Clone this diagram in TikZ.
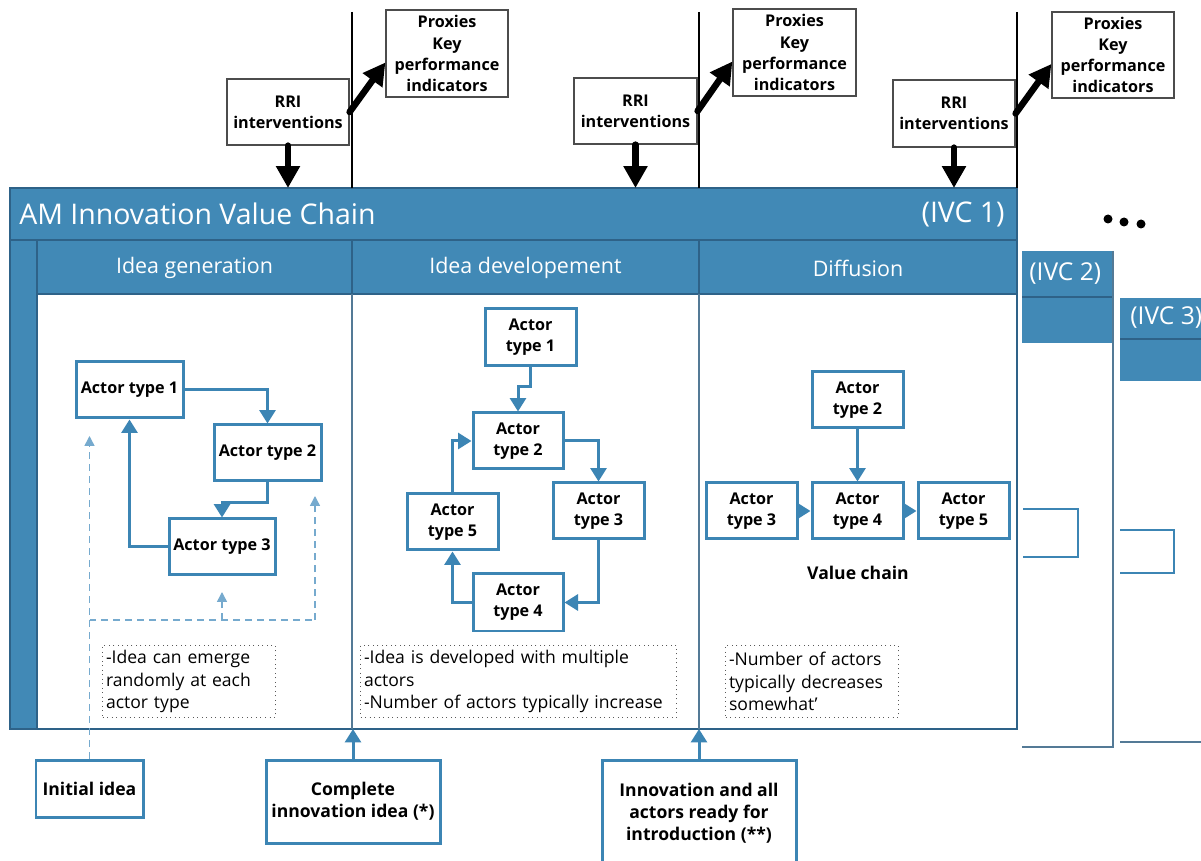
\documentclass[tikz,border=0pt]{standalone}
\usepackage{fontspec}
\setmainfont{Open Sans}
\usetikzlibrary{arrows.meta,calc}
\definecolor{ivcblue}{RGB}{65,137,182}
\definecolor{ivcdark}{RGB}{46,98,136}
\definecolor{actorblue}{RGB}{60,133,180}
\definecolor{dashblue}{RGB}{118,170,206}
\definecolor{rulegray}{RGB}{84,122,150}

\begin{document}
\begin{tikzpicture}[x=0.02cm,y=-0.02cm,
  sz/.style 2 args={minimum width=#1*0.02cm, minimum height=#2*0.02cm},
  actor/.style={draw=actorblue, line width=0.06cm, fill=white, align=center,
    inner sep=0pt, font=\fontsize{9.2}{12}\selectfont\bfseries},
  kpibox/.style={draw=black!70, line width=0.025cm, fill=white, align=center,
    inner sep=0pt, font=\fontsize{9.2}{12}\selectfont\bfseries},
  milestone/.style={actor, font=\fontsize{10}{12.6}\selectfont\bfseries},
  note/.style={draw=black!65, dotted, line width=0.02cm, align=left,
    anchor=north west, inner xsep=0.07cm, inner ysep=0pt,
    font=\fontsize{10}{12.8}\selectfont},
  flow/.style={draw=actorblue, line width=0.06cm,
    -{Triangle[width=0.32cm,length=0.27cm]}},
  hint/.style={draw=dashblue, line width=0.03cm,
    dash pattern=on 0.14cm off 0.1cm, -{Triangle[width=0.2cm,length=0.2cm]}},
  hintline/.style={draw=dashblue, line width=0.03cm, dash pattern=on 0.14cm off 0.1cm},
  bigarrow/.style={draw=black, line width=0.13cm, line cap=round,
    -{Triangle[width=0.46cm,length=0.44cm]}},
  stagehead/.style={text=white, font=\fontsize{12.2}{14}\selectfont},
  ivchead/.style={text=white, inner sep=0pt, font=\fontsize{16.2}{18}\selectfont},
  ivcsmall/.style={text=white, inner sep=0pt, font=\fontsize{14}{16}\selectfont},
  panelline/.style={draw=rulegray, line width=0.03cm},
  darkline/.style={draw=ivcdark, line width=0.03cm},
  bracket/.style={draw=actorblue, line width=0.04cm},
]
\useasboundingbox (0,0) rectangle (1201,861);
\clip (0,0) rectangle (1201,861);
\fill[white] (0,0) rectangle (1201,861);

% ---------- further chains in the background ----------
\fill[ivcblue] (1022,251) rectangle (1113,343);
\draw[darkline] (1022,297) -- (1113,297);
\node[ivcsmall, anchor=west] (ivc2) at (1029,274) {(IVC 2)};
\draw[panelline] (1113,251) -- (1113,747) -- (1022,747);
\draw[bracket] (1023,509) -- (1078,509) -- (1078,557) -- (1023,557);

\fill[ivcblue] (1120,298) rectangle (1215,381);
\draw[darkline] (1120,339) -- (1215,339);
\node[ivcsmall, anchor=west] (ivc3) at (1130,318) {(IVC 3)};
\draw[panelline] (1120,742) -- (1215,742);
\draw[bracket] (1120,530) -- (1174,530) -- (1174,573) -- (1120,573);

\foreach \cx/\cy in {1108/219, 1124/222, 1141/224}
  \fill[black] (\cx,\cy) circle [radius=0.09cm];

% ---------- main value chain panel ----------
\fill[ivcblue] (10,188) rectangle (1017,294);
\fill[ivcblue] (10,294) rectangle (37,729);
\draw[darkline] (10,240) -- (1017,240);
\draw[darkline] (37,240) -- (37,729);
\draw[darkline] (37,294) -- (1017,294);
\draw[darkline] (10,188) rectangle (1017,729);
\draw[darkline] (352,240) -- (352,294);
\draw[darkline] (699,240) -- (699,294);
\draw[panelline] (352,294) -- (352,729);
\draw[panelline] (699,294) -- (699,729);

\node[ivchead, anchor=west] (ivc1title) at (19,214) {AM Innovation Value Chain};
\node[ivchead, anchor=east] (ivc1) at (1005,214) {(IVC 1)};
\node[stagehead] (stage1) at (194.5,268) {Idea generation};
\node[stagehead] (stage2) at (525.5,268) {Idea developement};
\node[stagehead] (stage3) at (858,268) {Diffusion};

\coordinate (ivctop) at (0,188);
\coordinate (ivcbot) at (0,729);

% stage boundaries above the panel
\draw[black, line width=0.025cm] (352,12) -- (352,188);
\draw[black, line width=0.025cm] (699,12) -- (699,188);
\draw[black, line width=0.025cm] (1017,12) -- (1017,188);

% ---------- interventions and indicators ----------
\node[kpibox, sz={122}{66}] (rri1) at (288,112) {RRI\\interventions};
\node[kpibox, sz={122}{87}] (kpi1) at (447,53.5) {Proxies\\Key\\performance\\indicators};
\node[kpibox, sz={123}{66}] (rri2) at (635.5,111) {RRI\\interventions};
\node[kpibox, sz={123}{87}] (kpi2) at (794.5,52.5) {Proxies\\Key\\performance\\indicators};
\node[kpibox, sz={122}{67}] (rri3) at (954,113.5) {RRI\\interventions};
\node[kpibox, sz={122}{86}] (kpi3) at (1113,55) {Proxies\\Key\\performance\\indicators};

\foreach \i in {1,2,3}{
  \draw[bigarrow] (rri\i.south) -- (rri\i.south |- ivctop);
  \draw[bigarrow] (rri\i.east) -- ($(kpi\i.west)+(0,9)$);
}

% ---------- idea generation ----------
\node[actor, sz={107}{56}] (g1) at (129.5,390) {Actor type 1};
\node[actor, sz={107}{56}] (g2) at (267.5,453) {Actor type 2};
\node[actor, sz={106}{56}] (g3) at (222,547) {Actor type 3};
\draw[flow] (g1.east) -| (g2.north);
\draw[flow] (g2.south) -- ++(0,20) -| (g3.north);
\draw[flow] (g3.west) -| (g1.south);

\node[note, sz={173}{72}, text width=3.32cm] (noteg) at (102,645)
  {-Idea can emerge\\randomly at each\\actor type};

% ---------- idea development ----------
\node[actor, sz={91}{57}] (d1) at (530.5,337.5) {Actor\\type 1};
\node[actor, sz={90}{56}] (d2) at (518,441) {Actor\\type 2};
\node[actor, sz={91}{56}] (d3) at (598.5,511) {Actor\\type 3};
\node[actor, sz={90}{57}] (d4) at (518,602.5) {Actor\\type 4};
\node[actor, sz={91}{56}] (d5) at (452.5,522) {Actor\\type 5};
\draw[flow] (d1.south) -- ++(0,19) -| (d2.north);
\draw[flow] (d2.east) -| (d3.north);
\draw[flow] (d3.south) |- (d4.east);
\draw[flow] (d4.west) -| (d5.south);
\draw[flow] (d5.north) |- (d2.west);

\node[note, sz={316}{72}, text width=6.18cm] (noted) at (360,645)
  {-Idea is developed with multiple\\actors\\-Number of actors typically increase};

% ---------- diffusion ----------
\node[actor, sz={91}{56}] (f2) at (857.5,400) {Actor\\type 2};
\node[actor, sz={91}{56}] (f3) at (751.5,511) {Actor\\type 3};
\node[actor, sz={91}{56}] (f4) at (857.5,511) {Actor\\type 4};
\node[actor, sz={91}{56}] (f5) at (963.5,511) {Actor\\type 5};
\draw[flow] (f2.south) -- (f4.north);
\draw[flow] (f3.east) -- (f4.west);
\draw[flow] (f4.east) -- (f5.west);
\node[font=\fontsize{10}{12}\selectfont\bfseries] (vchain) at (858,573) {Value chain};

\node[note, sz={173}{72}, text width=3.32cm] (notef) at (725,645)
  {-Number of actors\\typically decreases\\somewhat’};

% ---------- milestones ----------
\node[milestone, sz={107}{57}] (init) at (89.5,788.5) {Initial idea};
\node[milestone, sz={174}{83}] (cii) at (353,801.5) {Complete\\innovation idea (*)};
\node[milestone, sz={194}{106}] (inn) at (699,813) {Innovation and all\\actors ready for\\introduction (**)};

\draw[flow] (cii.north) -- (cii.north |- ivcbot);
\draw[flow] (inn.north) -- (inn.north |- ivcbot);

% idea may start at any actor type
\coordinate (g1tip) at (89.5,436);
\coordinate (hR) at (315,620);
\coordinate (g2tip) at (315,496);
\coordinate (hM) at (222,620);
\coordinate (g3tip) at (222,592);
\draw[hint] (init.north) -- (g1tip);
\draw[hintline] (init.north |- hR) -- (hR);
\draw[hint] (hR) -- (g2tip);
\draw[hint] (hM) -- (g3tip);
\end{tikzpicture}
\end{document}
